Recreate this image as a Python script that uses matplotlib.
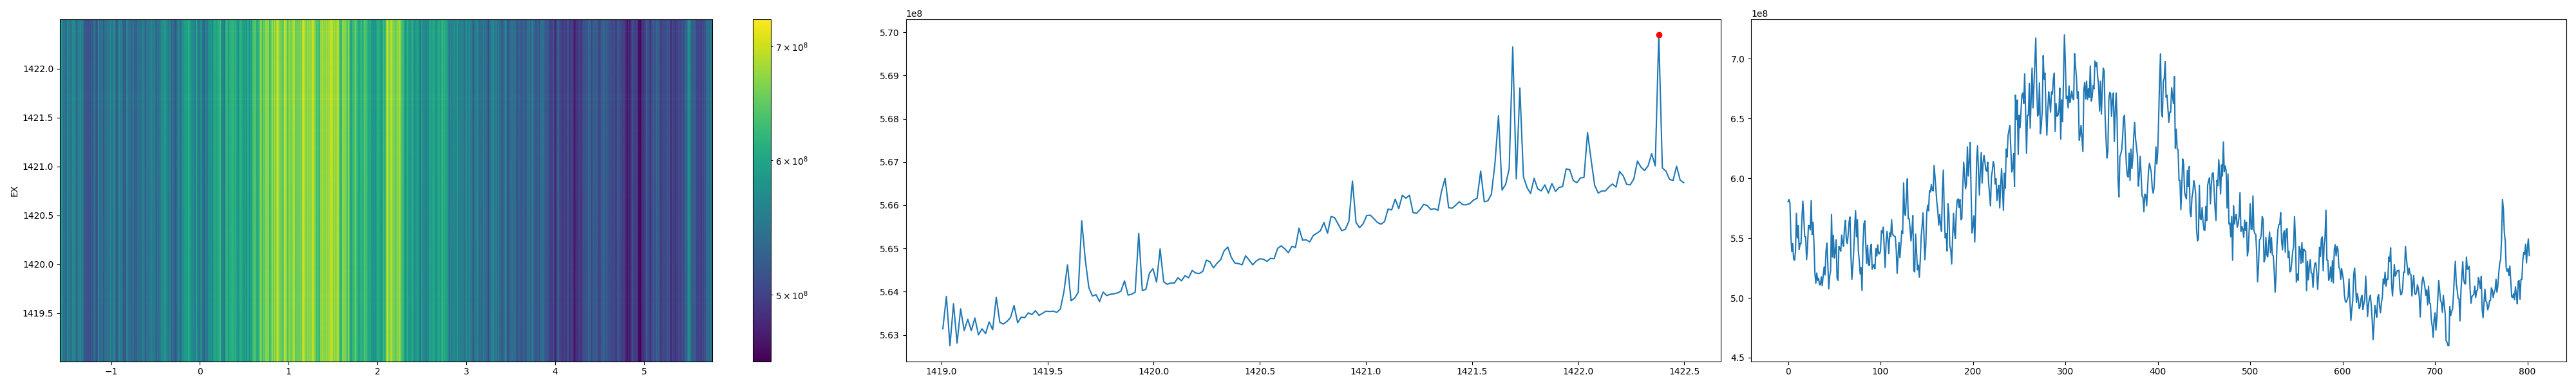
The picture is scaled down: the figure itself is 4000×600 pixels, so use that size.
import numpy as np
import matplotlib
matplotlib.use("Agg")
import matplotlib.pyplot as plt
from matplotlib.colors import LogNorm

# Values in units of 1e8
ex_cut = [5.6314,5.6389,5.6275,5.6372,5.6281,5.6360,5.6310,5.6336,5.6310,5.6339,5.6300,5.6314,5.6303,5.6330,5.6312,5.6387,5.6329,5.6325,5.6331,5.6340,
5.6368,5.6328,5.6341,5.6340,5.6351,5.6347,5.6356,5.6345,5.6350,5.6355,5.6354,5.6355,5.6352,5.6360,5.6400,5.6462,5.6379,5.6385,5.6398,5.6564,
5.6473,5.6409,5.6390,5.6393,5.6377,5.6399,5.6391,5.6394,5.6395,5.6397,5.6401,5.6425,5.6392,5.6394,5.6399,5.6535,5.6403,5.6405,5.6443,5.6453,
5.6422,5.6499,5.6423,5.6417,5.6420,5.6420,5.6432,5.6425,5.6437,5.6432,5.6449,5.6443,5.6442,5.6447,5.6473,5.6469,5.6455,5.6466,5.6474,5.6495,
5.6503,5.6479,5.6466,5.6465,5.6462,5.6483,5.6473,5.6462,5.6471,5.6476,5.6475,5.6470,5.6477,5.6476,5.6500,5.6506,5.6499,5.6490,5.6505,5.6502,
5.6547,5.6519,5.6520,5.6515,5.6530,5.6535,5.6541,5.6560,5.6535,5.6574,5.6571,5.6556,5.6541,5.6544,5.6563,5.6656,5.6560,5.6548,5.6557,5.6576,
5.6577,5.6569,5.6560,5.6556,5.6562,5.6591,5.6589,5.6614,5.6592,5.6623,5.6616,5.6623,5.6583,5.6581,5.6590,5.6602,5.6599,5.6590,5.6592,5.6588,
5.6632,5.6662,5.6594,5.6593,5.6600,5.6608,5.6601,5.6601,5.6604,5.6612,5.6616,5.6679,5.6608,5.6610,5.6625,5.6696,5.6807,5.6635,5.6648,5.6684,
5.6966,5.6661,5.6871,5.6666,5.6641,5.6627,5.6662,5.6638,5.6633,5.6647,5.6628,5.6650,5.6632,5.6641,5.6643,5.6684,5.6682,5.6657,5.6652,5.6663,
5.6664,5.6768,5.6705,5.6646,5.6628,5.6633,5.6633,5.6642,5.6649,5.6642,5.6678,5.6668,5.6648,5.6647,5.6661,5.6702,5.6688,5.6680,5.6691,5.6719,
5.6691,5.6994,5.6686,5.6679,5.6660,5.6657,5.6690,5.6658,5.6652]

channel_cut = [5.805,5.823,5.793,5.52,5.387,5.454,5.324,5.315,5.387,5.707,5.502,5.604,5.404,5.454,5.454,5.672,5.81,5.672,5.511,5.511,
5.319,5.422,5.604,5.604,5.568,5.814,5.529,5.632,5.458,5.208,5.123,5.208,5.146,5.164,5.11,5.11,5.176,5.102,5.191,5.258,
5.191,5.387,5.458,5.28,5.075,5.182,5.226,5.698,5.342,5.524,5.333,5.387,5.485,5.164,5.146,5.431,5.413,5.39,5.525,5.458,
5.431,5.582,5.648,5.493,5.454,5.529,5.636,5.677,5.351,5.155,5.262,5.387,5.582,5.73,5.511,5.654,5.395,5.315,5.2,5.253,
5.062,5.44,5.618,5.645,5.458,5.289,5.44,5.276,5.271,5.404,5.449,5.24,5.262,5.28,5.244,5.413,5.351,5.444,5.369,5.369,
5.395,5.561,5.543,5.591,5.422,5.253,5.458,5.556,5.493,5.369,5.543,5.511,5.654,5.529,5.525,5.515,5.511,5.404,5.205,5.351,
5.465,5.337,5.44,5.561,5.538,5.962,5.707,5.689,5.85,5.996,5.663,5.663,5.582,5.476,5.565,5.689,5.226,5.217,5.534,5.387,
5.235,5.274,5.173,5.315,5.511,5.6,5.711,5.529,5.319,5.44,5.707,5.775,5.729,5.898,5.885,5.948,5.9,5.894,
6.108,6.01,5.903,5.796,5.725,5.609,5.698,5.609,5.556,5.903,6.069,5.707,5.502,5.538,5.392,5.787,5.707,5.431,5.404,5.283,
5.493,5.707,5.547,5.497,5.725,5.818,5.828,5.757,5.823,5.654,5.663,5.921,6.135,6.028,5.912,5.957,6.263,6.019,6.135,6.299,
5.903,5.543,5.6,5.686,5.467,5.761,6.153,6.272,6.063,5.859,6.063,6.217,5.96,6.135,6.192,6.135,6.067,6.06,6.135,5.957,
5.868,5.77,6.01,6.063,6.14,6.108,5.953,5.996,5.814,5.903,5.942,5.752,5.939,6.081,5.903,5.732,6.042,5.916,6.245,6.179,
6.358,6.402,6.443,6.242,6.053,6.081,6.206,5.93,6.696,6.491,6.655,6.199,6.527,6.423,6.562,6.696,6.714,6.625,6.874,6.562,
6.21,6.527,6.527,6.794,6.42,6.669,6.922,6.589,6.776,6.972,7.173,6.776,6.52,6.536,6.798,6.373,6.438,6.562,7.026,6.83,
6.88,6.562,6.361,6.562,6.723,6.651,6.553,6.723,6.705,6.83,6.88,6.393,6.625,6.518,6.527,6.562,6.755,6.327,6.657,6.473,
6.83,7.2,6.972,6.666,6.687,6.589,6.773,6.634,6.678,6.73,6.669,6.657,7.043,6.937,6.847,6.669,6.723,6.318,6.366,6.443,
6.331,6.224,
6.74,6.803,6.664,6.812,6.66,6.749,6.678,6.94,6.646,6.678,6.776,6.749,6.981,6.937,6.969,6.847,6.776,6.562,6.812,6.536,
6.74,6.922,6.9,6.527,6.331,6.17,6.224,6.651,6.719,6.708,6.518,6.66,6.714,6.308,6.562,6.714,6.491,5.992,5.844,6.179,
6.206,6.238,6.349,6.509,6.527,6.295,6.117,6.028,6.01,6.21,5.983,6.245,6.081,6.17,6.349,6.468,6.331,6.26,6.188,5.935,
6.028,6.185,6.028,5.85,5.844,5.72,5.868,5.859,5.77,5.921,6.063,6.126,6.09,6.046,5.921,5.876,5.921,6.081,6.263,6.12,
6.224,6.509,6.83,7.04,6.562,6.513,6.812,6.838,6.976,6.678,6.696,6.58,6.468,6.553,6.553,6.758,6.687,6.625,6.851,6.251,
6.411,6.245,6.238,5.983,5.983,5.737,5.939,6.162,6.117,5.885,5.85,5.828,6.067,5.93,6.099,5.716,5.68,5.841,5.885,5.98,
5.939,5.868,5.574,5.476,5.493,5.942,5.663,5.654,5.755,5.636,5.568,5.565,5.766,5.645,5.942,5.983,6.005,5.787,5.948,6.042,
6.046,5.894,5.752,5.648,5.983,5.939,6.156,6.028,5.868,6.112,6.019,6.304,6.055,6.103,6.063,5.752,6.037,5.618,5.627,
5.511,5.68,5.315,5.77,5.618,5.672,5.698,5.591,5.618,5.68,5.88,5.556,5.597,5.574,5.506,5.65,5.565,5.632,5.351,5.404,
5.582,5.787,5.574,5.574,5.853,5.565,5.538,5.533,5.387,5.134,5.262,5.485,5.493,5.529,5.68,5.657,5.301,5.324,5.506,5.36,
5.342,5.458,5.552,5.378,5.506,5.36,5.351,5.226,5.048,5.191,5.44,5.568,5.613,5.615,5.713,5.476,5.401,5.538,5.561,5.383,
5.574,5.579,5.337,5.39,5.217,5.226,5.297,5.387,5.431,5.68,5.485,5.132,5.2,5.146,5.431,5.404,5.289,5.463,5.297,5.408,
5.395,5.39,5.061,5.306,5.151,5.262,5.319,5.208,5.205,5.087,5.226,5.289,5.294,5.208,5.071,5.208,5.422,5.346,5.493,5.511,
5.226,5.44,5.511,5.734,5.315,5.315,5.146,5.169,5.258,5.137,5.312,5.125,5.404,5.445,5.351,5.431,5.404,5.253,5.244,5.155,
5.244,5.194,5.146,5.021,4.968,4.964,4.986,5.012,5.16,4.959,4.811,4.905,4.977,5.191,5.249,5.119,4.962,5.036,4.986,4.911,
4.932,4.995,5.021,4.902,4.95,4.986,5.182,5.03,4.843,4.941,4.995,5.021,4.941,4.816,4.65,4.781,4.936,4.879,
4.838,5.003,5.027,4.932,4.875,4.959,5.003,5.158,5.116,5.214,5.098,5.158,5.155,5.342,5.306,5.419,5.119,5.016,5.137,5.28,
5.182,5.2,5.226,5.226,5.231,5.075,5.025,5.034,5.084,5.214,5.214,5.431,5.333,5.262,5.191,5.249,5.2,5.194,5.016,5.119,
5.187,5.039,5.027,5.048,5.11,5.075,5.003,4.84,5.03,5.137,5.176,5.137,5.093,5.021,5.066,4.941,5.098,4.959,4.95,4.816,
4.763,4.67,4.816,4.875,4.73,4.834,4.995,5.146,5.066,4.977,4.959,4.879,5.021,4.941,4.87,4.64,4.63,4.60,4.60,4.927,
4.852,4.888,4.905,5.03,5.191,5.306,5.119,5.066,4.995,4.991,4.807,5.048,5.173,5.303,5.155,5.119,5.116,5.342,5.24,5.244,
5.265,5.066,4.955,5.012,5.021,5.03,5.098,5.003,5.057,5.066,5.169,5.137,5.08,5.18,4.905,4.834,4.959,5.073,4.973,4.962,
4.9,4.923,4.977,4.977,5.084,5.066,5.003,5.048,5.066,5.155,5.048,5.102,5.208,5.289,5.321,5.493,5.823,5.743,5.547,5.476,
5.253,5.221,5.244,5.187,5.267,5.137,5.009,5.003,5.034,4.986,5.093,5.03,4.95,5.137,5.146,4.989,5.155,5.155,5.315,5.378,
5.365,5.449,5.292,5.422,5.493,5.354]

ex_range = (1419.007, 1422.497)
map_xrange = (-1.577, 5.77)
map_yrange = (1419.008, 1422.506)
color_range = (4.57e8, 7.26e8)

W, H = 4000, 600
def axes_px(fig, x0, x1, y0, y1):
    return fig.add_axes([x0 / W, 1 - y1 / H, (x1 - x0) / W, (y1 - y0) / H])

ex_vals = np.array(ex_cut) * 1e8
ch_vals = np.array(channel_cut) * 1e8
ex_axis = np.linspace(ex_range[0], ex_range[1], len(ex_vals))
ch_axis = np.arange(len(ch_vals))

fig = plt.figure(figsize=(40, 6), dpi=100)

ax0 = axes_px(fig, 93, 1106, 30, 561.5)
cax = axes_px(fig, 1169, 1196.5, 30, 561.5)
xe = np.linspace(map_xrange[0], map_xrange[1], len(ch_vals) + 1)
ye = np.linspace(map_yrange[0], map_yrange[1], len(ex_vals) + 1)
Z = np.outer(ex_vals / ex_vals.mean(), ch_vals)
pm = ax0.pcolormesh(xe, ye, Z, cmap="viridis",
                    norm=LogNorm(vmin=color_range[0], vmax=color_range[1]), rasterized=True)
ax0.set_ylabel("EX")
ax0.set_xticks([-1, 0, 1, 2, 3, 4, 5])
ax0.set_yticks([1419.5, 1420.0, 1420.5, 1421.0, 1421.5, 1422.0])
fig.colorbar(pm, cax=cax)

ax1 = axes_px(fig, 1406.5, 2672, 30, 561.5)
ax1.plot(ex_axis, ex_vals)
k = int(np.argmax(ex_vals))
ax1.plot(ex_axis[k], ex_vals[k], "ro")

ax2 = axes_px(fig, 2719, 3985, 30, 561.5)
ax2.plot(ch_axis, ch_vals)

fig.savefig("out.png", dpi=100)
